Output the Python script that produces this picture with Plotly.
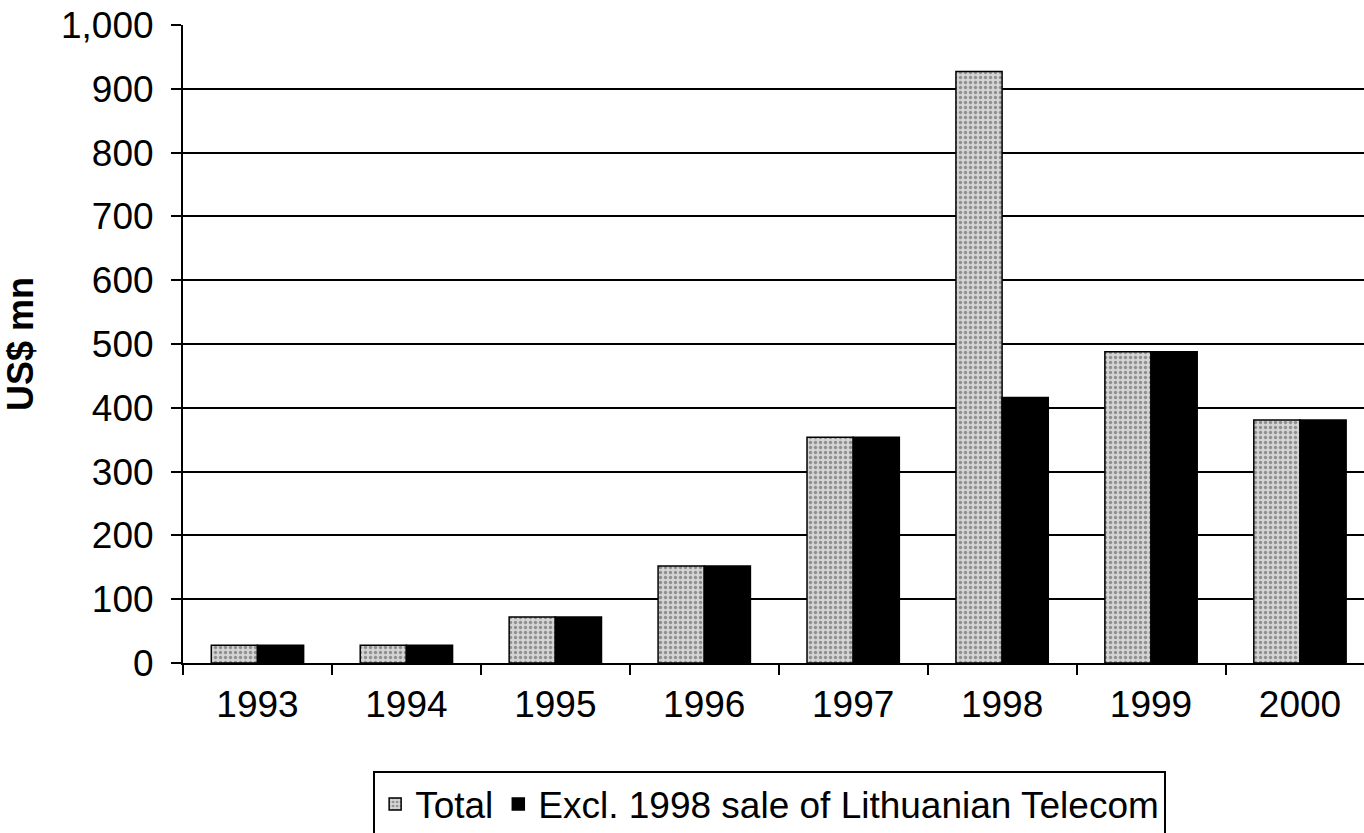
import plotly.graph_objects as go

years = ["1993", "1994", "1995", "1996", "1997", "1998", "1999", "2000"]
total = [28, 28, 72, 152, 354, 927, 488, 381]
excl = [28, 28, 72, 152, 354, 416, 488, 381]
yticks = [0, 100, 200, 300, 400, 500, 600, 700, 800, 900, 1000]

FONT = "Liberation Sans, Arial, sans-serif"

fig = go.Figure()
fig.add_trace(go.Bar(
    x=years, y=total, name="Total",
    marker=dict(color="#d4d4d4",
                pattern=dict(shape=".", fgcolor="#4a4a4a", size=5, solidity=0.35),
                line=dict(color="black", width=1.5)),
))
fig.add_trace(go.Bar(
    x=years, y=excl, name="Excl. 1998 sale of Lithuanian Telecom",
    marker=dict(color="black", line=dict(color="black", width=1.5)),
))

fig.update_layout(
    width=1364, height=833,
    margin=dict(l=183, r=0, t=25, b=170, autoexpand=False),
    paper_bgcolor="white", plot_bgcolor="white",
    barmode="group", bargap=0.38, bargroupgap=0,
    font=dict(family=FONT, size=37, color="black"),
    showlegend=True,
    legend=dict(orientation="h", x=0.161, xanchor="left", y=-0.170, yanchor="top",
                bordercolor="black", borderwidth=2, font=dict(size=37),
                itemwidth=30, traceorder="normal",
                bgcolor="white"),
)
fig.update_xaxes(
    type="category", range=[-0.5, 7.43], automargin=False,
    showline=True, linecolor="black", linewidth=2,
    ticks="outside", tickson="boundaries", ticklen=10, tickwidth=1.5, tickcolor="black",
    showgrid=False, ticklabelstandoff=8,
)
fig.update_yaxes(
    range=[0, 1000], tickvals=yticks, tickformat=",d", automargin=False,
    showline=True, linecolor="black", linewidth=2,
    ticks="outside", ticklen=10, tickwidth=1.5, tickcolor="black",
    showgrid=True, gridcolor="black", gridwidth=2,
    zeroline=False, ticklabelstandoff=10,
    title=dict(text="<b>US$ mn</b>", font=dict(size=36), standoff=16),
)

fig.write_html(
    "out.html",
    config={"displayModeBar": False},
    post_script="document.body.style.margin='0';document.body.style.overflow='hidden';",
)
